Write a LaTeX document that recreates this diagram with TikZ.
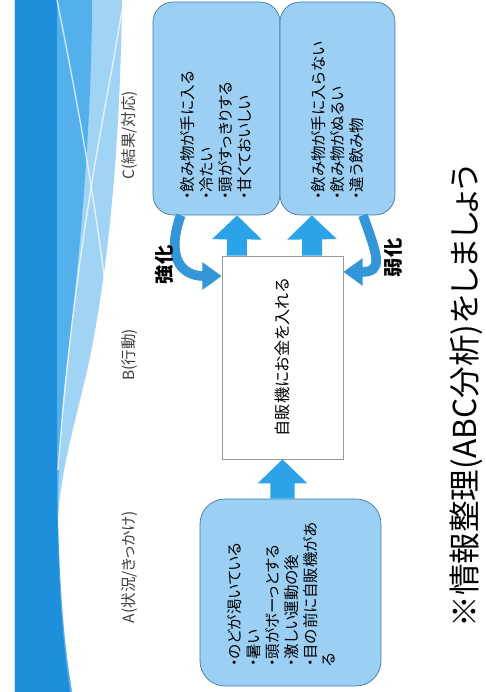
\documentclass[tikz,border=0pt]{standalone}
\usepackage{fontspec}
\setmainfont{Noto Sans CJK JP}[RawFeature=+palt]
\usepackage{xcolor}
\usetikzlibrary{arrows.meta,calc}

\definecolor{bandDark}{RGB}{30,143,219}
\definecolor{bandMid}{RGB}{84,176,234}
\definecolor{bandLight}{RGB}{160,211,244}
\definecolor{boxFill}{RGB}{155,208,244}
\definecolor{boxLine}{RGB}{72,118,160}
\definecolor{arrowBlue}{RGB}{44,163,232}
\definecolor{curveBlue}{RGB}{50,150,216}

\begin{document}
\begin{tikzpicture}[x=0.02cm, y=0.02cm, rotate=90, transform shape,
    sitbox/.style={rectangle, draw=boxLine, fill=boxFill, thin, align=left, inner ysep=4pt, font=\fontsize{8.8}{10.8}\selectfont},
    actbox/.style={rectangle, draw=gray!80, fill=white, thin, minimum width=4.06cm, minimum height=2.42cm, font=\fontsize{9.2}{11}\selectfont},
    stagelabel/.style={font=\fontsize{8.8}{10}\selectfont, text=black!75},
    effectlabel/.style={font=\bfseries\fontsize{11}{13}\selectfont},
    blockarr/.style={draw=arrowBlue, line width=11.4pt, -{Triangle[width=27.5pt, length=13.7pt]}},
    loopfb/.style={draw=curveBlue, line width=5.5pt, -{Triangle[width=15pt, length=11pt]}},
  ]
  \useasboundingbox (0,0) rectangle (692,486);
  \fill[white] (0,0) rectangle (692,486);

  % decorative band (top of the slide)
  \fill[bandLight] (692,471) -- (692,364) .. controls (542,366) and (412,378) .. (312,401)
    .. controls (252,416) and (212,426) .. (172,428) .. controls (92,426) and (42,421) .. (0,414) -- (0,471) -- cycle;
  \fill[bandMid] (692,471) -- (692,394) .. controls (572,394) and (432,406) .. (312,421)
    .. controls (262,426) and (212,428) .. (172,428) .. controls (92,426) and (42,421) .. (0,414) -- (0,471) -- cycle;
  \fill[bandDark] (692,471) -- (692,429) -- (212,429) .. controls (92,428) and (42,422) .. (0,416) -- (0,471) -- cycle;
  \draw[white, opacity=0.7, line width=0.8pt] (692,429) .. controls (602,411) and (472,386) .. (346,374);
  \draw[white, opacity=0.7, line width=0.8pt] (682,364) .. controls (592,378) and (452,411) .. (222,428);

  % stage labels
  \node[stagelabel] (labA) at (125,356) {A(状況/きっかけ)};
  \node[stagelabel] (labB) at (337,356) {B(行動)};
  \node[stagelabel] (labC) at (557,356) {C(結果/対応)};

  % A: situation
  \node[sitbox, rounded corners=0.5cm, inner xsep=0.38cm, text width=2.98cm, minimum height=3.62cm] (A) at (99.5,195.5)
    {・のどが渇いている\\・暑い\\・頭がボーっとする\\・激しい運動の後\\・目の前に自販機があ\\る\\ \mbox{}};

  % B: behaviour
  \node[actbox] (B) at (334.5,203.5) {自販機にお金を入れる};

  % C: consequences
  \node[sitbox, rounded corners=0.4cm, inner xsep=0.3cm, text width=3.66cm, minimum height=2.54cm] (C1) at (583.5,269.5)
    {・飲み物が手に入る\\・冷たい\\・頭がすっきりする\\・甘くておいしい};
  \node[sitbox, rounded corners=0.4cm, inner xsep=0.3cm, text width=3.66cm, minimum height=2.30cm] (C2) at (583.5,148.5)
    {・飲み物が手に入らない\\・飲み物がぬるい\\・違う飲み物};

  % flow arrows
  \draw[blockarr, line width=13.7pt] ($(A.north east)!0.456!(A.south east)$) -- (B.west);
  \draw[blockarr] ($(B.north east)!0.124!(B.south east)$) -- ($(C1.north west)!0.661!(C1.south west)$);
  \draw[blockarr] ($(B.north east)!0.744!(B.south east)$) -- ($(C2.north west)!0.278!(C2.south west)$);

  % feedback arrows
  \draw[loopfb] ($(C1.north west)!0.22!(C1.south west)$) .. controls +(160:45) and +(90:40) .. ($(B.north west)!0.9!(B.north east)$);
  \draw[loopfb] ($(C2.north west)!0.72!(C2.south west)$) .. controls +(200:45) and +(-90:40) .. ($(B.south west)!0.92!(B.south east)$);
  \node[effectlabel] (strong) at (427,322) {強化};
  \node[effectlabel] (weak) at (434,93) {弱化};

  % title
  \node[font=\fontsize{18}{22}\selectfont] (title) at (296,20) {※情報整理(ABC分析)をしましょう};
\end{tikzpicture}
\end{document}
